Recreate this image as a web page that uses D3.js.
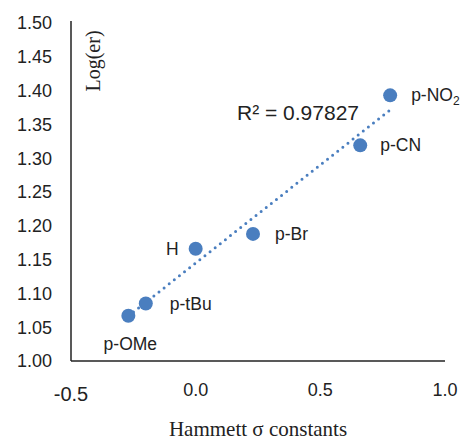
<!DOCTYPE html>
<html>
<head>
<meta charset="utf-8">
<script src="https://cdn.jsdelivr.net/npm/d3@7.9.0/dist/d3.min.js"></script>
<style>
  body { margin: 0; background: #fff; }
  svg { display: block; }
  .tick-label { font-family: "Liberation Sans", Arial, sans-serif; font-size: 18px; fill: #222; }
  .pt-label { font-family: "Liberation Sans", Arial, sans-serif; font-size: 17.5px; fill: #222; }
  .axis-title { font-family: "Liberation Serif", "Times New Roman", serif; font-size: 21px; fill: #222; }
</style>
</head>
<body>
<svg id="chart" width="464" height="440"></svg>
<script>
const substituents = ['p-OMe', 'p-tBu', 'H', 'p-Br', 'p-CN', 'p-NO2'];
const sigma = [-0.27, -0.20, 0.00, 0.23, 0.66, 0.78];
const logEr = [1.067, 1.085, 1.166, 1.188, 1.319, 1.393];
const xTicks = [-0.5, 0.0, 0.5, 1.0];
const yTicks = [1.00, 1.05, 1.10, 1.15, 1.20, 1.25, 1.30, 1.35, 1.40, 1.45, 1.50];
const r2Label = 'R² = 0.97827';

const blue = '#4a7ebf';
const svg = d3.select('#chart');

const x = d3.scaleLinear().domain([-0.5, 1.0]).range([71, 445]);
const y = d3.scaleLinear().domain([1.0, 1.5]).range([361, 23]);

// axes lines
svg.append('line')
  .attr('x1', x(-0.5)).attr('x2', x(-0.5))
  .attr('y1', y(1.5) - 2).attr('y2', y(1.0))
  .attr('stroke', '#222').attr('stroke-width', 1.5);
svg.append('line')
  .attr('x1', x(-0.5)).attr('x2', x(1.0))
  .attr('y1', y(1.0)).attr('y2', y(1.0))
  .attr('stroke', '#222').attr('stroke-width', 1.5);

// y tick labels
svg.selectAll('.ytl')
  .data(yTicks)
  .join('text')
    .attr('class', 'tick-label')
    .attr('x', 52)
    .attr('y', d => y(d))
    .attr('dy', '0.35em')
    .attr('text-anchor', 'end')
    .text(d => d.toFixed(2));

// x tick labels (the -0.5 one sits lower and larger in the original)
svg.selectAll('.xtl')
  .data(xTicks)
  .join('text')
    .attr('class', 'tick-label')
    .attr('x', d => x(d))
    .attr('y', d => d < 0 ? 394 : 390)
    .attr('dy', '0.35em')
    .attr('text-anchor', 'middle')
    .style('font-size', d => d < 0 ? '20px' : '18px')
    .text(d => d.toFixed(1));

// axis titles
svg.append('text')
  .attr('class', 'axis-title')
  .attr('x', 258).attr('y', 436)
  .attr('text-anchor', 'middle')
  .text('Hammett σ constants');

svg.append('text')
  .attr('class', 'axis-title')
  .attr('transform', `translate(100,61) rotate(-90)`)
  .attr('text-anchor', 'middle')
  .style('font-size', '20px')
  .text('Log(er)');

// linear trendline (least squares)
const mx = d3.mean(sigma), my = d3.mean(logEr);
let sxy = 0, sxx = 0;
sigma.forEach((s, i) => {
  sxy += (s - mx) * (logEr[i] - my);
  sxx += (s - mx) ** 2;
});
const slope = sxy / sxx;
const icpt = my - slope * mx;
const [xmin, xmax] = d3.extent(sigma);

svg.append('line')
  .attr('x1', x(xmin)).attr('y1', y(icpt + slope * xmin))
  .attr('x2', x(xmax)).attr('y2', y(icpt + slope * xmax))
  .attr('stroke', blue)
  .attr('stroke-width', 3)
  .attr('stroke-linecap', 'round')
  .attr('stroke-dasharray', '0 6.5');

// points
const pts = substituents.map((s, i) => ({ label: s, sx: sigma[i], ly: logEr[i] }));
svg.selectAll('circle.pt')
  .data(pts)
  .join('circle')
    .attr('class', 'pt')
    .attr('cx', d => x(d.sx))
    .attr('cy', d => y(d.ly))
    .attr('r', 7)
    .attr('fill', blue);

// point labels
const labelPos = {
  'p-OMe': { dx: 2, dy: 28, anchor: 'middle' },
  'p-tBu': { dx: 24, dy: 0, anchor: 'start' },
  'H': { dx: -17, dy: 0, anchor: 'end' },
  'p-Br': { dx: 22, dy: 0, anchor: 'start' },
  'p-CN': { dx: 20, dy: 0, anchor: 'start' },
  'p-NO2': { dx: 21, dy: 0, anchor: 'start' }
};
const lbl = svg.selectAll('text.pt-label')
  .data(pts)
  .join('text')
    .attr('class', 'pt-label')
    .attr('x', d => x(d.sx) + labelPos[d.label].dx)
    .attr('y', d => y(d.ly) + labelPos[d.label].dy)
    .attr('dy', '0.35em')
    .attr('text-anchor', d => labelPos[d.label].anchor);
lbl.each(function(d) {
  const t = d3.select(this);
  if (d.label === 'p-NO2') {
    t.append('tspan').text('p-NO');
    t.append('tspan').attr('dy', '0.3em').style('font-size', '12px').text('2');
  } else {
    t.text(d.label);
  }
});

// R² annotation
svg.append('text')
  .attr('class', 'pt-label')
  .attr('x', 237).attr('y', 113)
  .attr('dy', '0.35em')
  .style('font-size', '21px')
  .text(r2Label);
</script>
</body>
</html>
